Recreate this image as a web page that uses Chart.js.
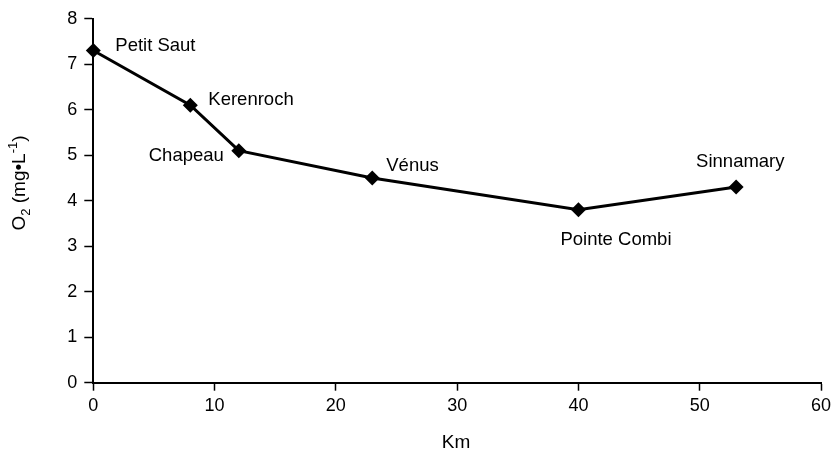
<!DOCTYPE html>
<html>
<head>
<meta charset="utf-8">
<script src="https://cdn.jsdelivr.net/npm/chart.js@4/dist/chart.umd.min.js"></script>
<style>
  html, body { margin: 0; padding: 0; background: #fff; }
  #wrap { width: 833px; height: 451px; position: relative; }
</style>
</head>
<body>
<div id="wrap"><canvas id="c" width="833" height="451"></canvas></div>
<script>
// ---- data ----
const siteNames = ["Petit Saut", "Kerenroch", "Chapeau", "Vénus", "Pointe Combi", "Sinnamary"];
const distanceKm = [0, 8, 12, 23, 40, 53];
const oxygenMgL = [7.3, 6.1, 5.1, 4.5, 3.8, 4.3];
const xTicks = [0, 10, 20, 30, 40, 50, 60];
const yTicks = [0, 1, 2, 3, 4, 5, 6, 7, 8];

// label placement relative to each point (pixels): dx, dy (baseline), alignment
const labelPlacement = [
  { dx: 22, dy: 0, align: "left" },
  { dx: 18, dy: 0, align: "left" },
  { dx: -15, dy: 10, align: "right" },
  { dx: 14, dy: -7, align: "left" },
  { dx: -18, dy: 35, align: "left" },
  { dx: -40, dy: -20, align: "left" }
];

const FONT = "'Liberation Sans', Arial, Helvetica, sans-serif";

const pointLabels = {
  id: "pointLabels",
  afterDatasetsDraw(chart) {
    const ctx = chart.ctx;
    const xs = chart.scales.x, ys = chart.scales.y;
    ctx.save();
    ctx.fillStyle = "#000";
    ctx.font = "18.5px " + FONT;
    ctx.textBaseline = "alphabetic";
    siteNames.forEach((name, i) => {
      const px = xs.getPixelForValue(distanceKm[i]);
      const py = ys.getPixelForValue(oxygenMgL[i]);
      const p = labelPlacement[i];
      ctx.textAlign = p.align;
      ctx.fillText(name, px + p.dx, py + p.dy);
    });
    ctx.restore();
  }
};

const axisTitles = {
  id: "axisTitles",
  afterDraw(chart) {
    const ctx = chart.ctx;
    ctx.save();
    ctx.fillStyle = "#000";
    // X title
    ctx.font = "19px " + FONT;
    ctx.textAlign = "center";
    ctx.textBaseline = "alphabetic";
    ctx.fillText("Km", 456, 448);

    // Y title with subscript / superscript, rotated
    const big = "19px " + FONT, small = "13px " + FONT;
    const parts = [
      { t: "O", f: big, dy: 0 },
      { t: "2", f: small, dy: 5 },
      { t: " (mg•L", f: big, dy: 0 },
      { t: "-1", f: small, dy: -8 },
      { t: ")", f: big, dy: 0 }
    ];
    let total = 0;
    parts.forEach(p => { ctx.font = p.f; p.w = ctx.measureText(p.t).width; total += p.w; });
    ctx.translate(25, 183);
    ctx.rotate(-Math.PI / 2);
    ctx.textAlign = "left";
    let x = -total / 2;
    parts.forEach(p => { ctx.font = p.f; ctx.fillText(p.t, x, p.dy); x += p.w; });
    ctx.restore();
  }
};

new Chart(document.getElementById("c"), {
  type: "scatter",
  data: {
    datasets: [{
      data: distanceKm.map((d, i) => ({ x: d, y: oxygenMgL[i] })),
      showLine: true,
      borderColor: "#000",
      backgroundColor: "#000",
      borderWidth: 3,
      pointStyle: "rectRot",
      pointRadius: 7.5,
      pointHoverRadius: 7.5,
      pointBorderWidth: 0,
      tension: 0,
      clip: false
    }]
  },
  options: {
    responsive: false,
    animation: false,
    events: [],
    devicePixelRatio: 1,
    layout: { padding: { left: 0, right: 12, top: 18.7, bottom: 0 } },
    plugins: { legend: { display: false }, tooltip: { enabled: false } },
    scales: {
      x: {
        type: "linear",
        min: 0, max: 60,
        afterBuildTicks: s => { s.ticks = xTicks.map(v => ({ value: v })); },
        afterFit: s => { s.height = 68.3; s.paddingLeft = 0; s.paddingRight = 0; },
        border: { display: true, color: "#000", width: 2 },
        grid: { display: true, drawOnChartArea: false, drawTicks: true, tickLength: 8, tickColor: "#000", tickWidth: 1.5 },
        ticks: { color: "#000", font: { size: 18, family: FONT }, padding: 5, maxRotation: 0 }
      },
      y: {
        type: "linear",
        min: 0, max: 8,
        afterBuildTicks: s => { s.ticks = yTicks.map(v => ({ value: v })); },
        afterFit: s => { s.width = 93.3; s.paddingTop = 0; s.paddingBottom = 0; },
        border: { display: true, color: "#000", width: 2 },
        grid: { display: true, drawOnChartArea: false, drawTicks: true, tickLength: 9, tickColor: "#000", tickWidth: 1.5 },
        ticks: { color: "#000", font: { size: 18, family: FONT }, padding: 7 }
      }
    }
  },
  plugins: [pointLabels, axisTitles]
});
</script>
</body>
</html>
